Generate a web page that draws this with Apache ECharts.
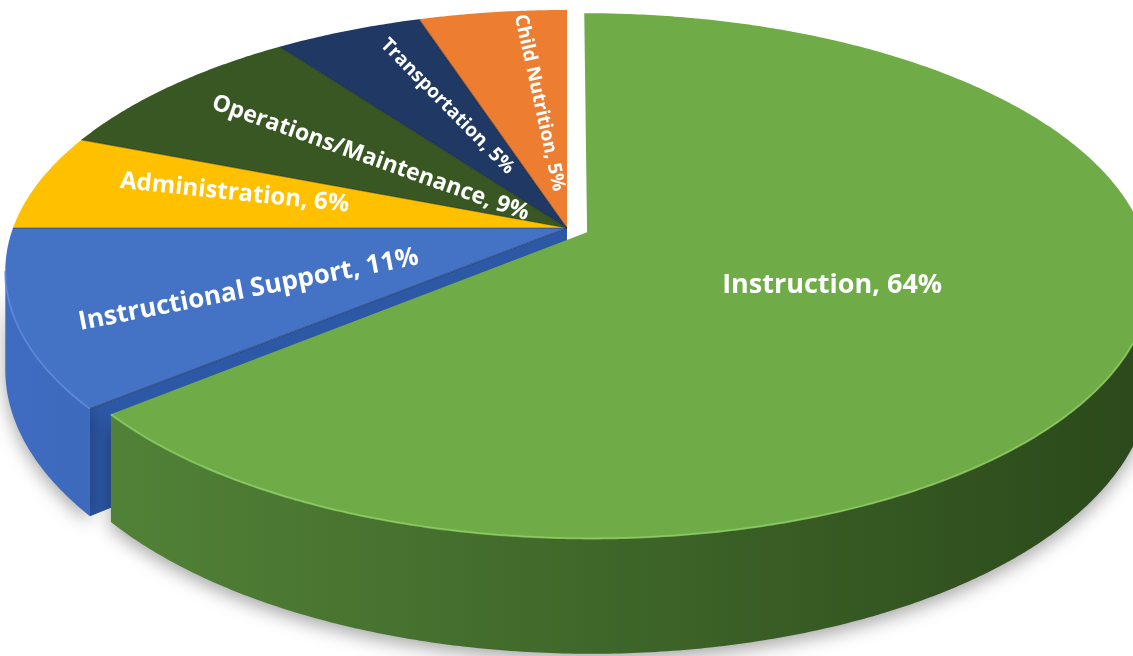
<!DOCTYPE html>
<html><head><meta charset="utf-8">
<script src="https://cdn.jsdelivr.net/npm/echarts@6/dist/echarts.min.js"></script>
<style>html,body{margin:0;padding:0;background:#fff}#c{width:1133px;height:656px}</style>
</head><body><div id="c"></div>
<script>
// ---- data ----
const categories = ['Instruction', 'Instructional Support', 'Administration', 'Operations/Maintenance', 'Transportation', 'Child Nutrition'];
const values = [64, 11, 6, 9, 5, 5];

// ---- style ----
const topColors = ['#6fac47', '#4472c4', '#ffc000', '#385723', '#203864', '#ed7d31'];
const wallColors = [['#55873a', '#2c4a1b'], ['#3f6cc0', '#27498a'], ['#d9a300', '#a07800'], ['#2e4a1c', '#1e3212'], ['#1a2e54', '#101d38'], ['#c96a28', '#94501e']];
const rimColors = ['#8fd064', '#5e8ad8', '#ffd24d', '#4d7433', '#2e4c80', '#f59a5a'];
const cutColors = ['#4a7a30', '#2c58a6', '#c79400', '#2a441a', '#17294b', '#b85f22'];
const explode = [0.04, 0, 0, 0, 0, 0];
const labelRadius = [0.47, 0.6, 0.63, 0.47, 0.57, 0.54];
const labelAnglePos = [0.5, 0.42, 0.6, 0.5, 0.65, 0.68];
const labelFontSize = [27, 26, 24, 23, 19, 19];
const labelRadial = [false, true, true, true, true, true];
const G = { cx: 567, cy: 228, rx: 554, ry: 254, k: 0.165, depth: 96 };

const total = values.reduce((a, b) => a + b, 0);
const n = values.length;

function renderItem(params, api) {
  const i = params.dataIndex;
  let acc = 0;
  for (let j = 0; j < i; j++) acc += values[j];
  const a1 = acc / total * 2 * Math.PI;
  const a2 = (acc + api.value(0)) / total * 2 * Math.PI;
  const mid = (a1 + a2) / 2;
  const ou = explode[i] * Math.sin(mid), ov = -explode[i] * Math.cos(mid);
  const P = (u, v, h) => { const w = 1 - G.k * v; return [G.cx + G.rx * u / w, G.cy + (G.ry * v + h) / w]; };
  const rim = (t, h) => P(ou + Math.sin(t), ov - Math.cos(t), h);
  const apex = h => P(ou, ov, h);
  const step = Math.PI / 360;
  const arc = (s, e, h) => {
    const pts = []; const m = Math.max(2, Math.ceil((e - s) / step));
    for (let q = 0; q <= m; q++) pts.push(rim(s + (e - s) * q / m, h));
    return pts;
  };
  const children = [];
  // top face
  children.push({ type: 'polygon', z2: 3, shape: { points: [apex(0)].concat(arc(a1, a2, 0)) }, style: { fill: topColors[i] } });
  // outer wall
  const S1 = Math.acos(-G.k), S2 = 2 * Math.PI - S1;
  const w1 = Math.max(a1, S1), w2 = Math.min(a2, S2);
  if (w2 > w1) {
    const topPts = arc(w1, w2, 0), botPts = arc(w1, w2, G.depth).reverse();
    children.push({
      type: 'polygon', z2: 2, shape: { points: topPts.concat(botPts) },
      style: {
        fill: { type: 'linear', x: G.cx - G.rx, y: 0, x2: G.cx + G.rx, y2: 0, global: true,
          colorStops: [{ offset: 0, color: wallColors[i][0] }, { offset: 1, color: wallColors[i][1] }] },
        shadowBlur: 18, shadowColor: 'rgba(0,0,0,0.35)', shadowOffsetY: 6
      }
    });
    children.push({ type: 'polyline', z2: 4, shape: { points: topPts }, style: { stroke: rimColors[i], lineWidth: 2, opacity: 0.8, fill: null } });
  }
  // cut faces next to an exploded slice
  const prev = (i - 1 + n) % n, next = (i + 1) % n;
  if ((explode[i] > 0 || explode[prev] > 0) && -Math.sin(a1) > 0.01) {
    children.push({ type: 'polygon', z2: 1, shape: { points: [apex(0), rim(a1, 0), rim(a1, G.depth), apex(G.depth)] }, style: { fill: cutColors[i] } });
  }
  if ((explode[i] > 0 || explode[next] > 0) && Math.sin(a2) > 0.01) {
    children.push({ type: 'polygon', z2: 1, shape: { points: [apex(0), rim(a2, 0), rim(a2, G.depth), apex(G.depth)] }, style: { fill: cutColors[i] } });
  }
  // radial edge lines
  if (explode[i] === 0) {
    children.push({ type: 'polyline', z2: 4, shape: { points: [apex(0), rim(a1, 0)] }, style: { stroke: 'rgba(0,0,0,0.35)', lineWidth: 1.2, fill: null } });
  }
  // label
  const f = labelRadius[i];
  const la = a1 + (a2 - a1) * labelAnglePos[i];
  const L = P(ou + f * Math.sin(la), ov - f * Math.cos(la), 0);
  let rot = 0;
  if (labelRadial[i]) {
    const A = apex(0);
    rot = -Math.atan2(A[1] - L[1], A[0] - L[0]);
  }
  children.push({
    type: 'text', z2: 10, x: L[0], y: L[1], rotation: rot,
    style: { text: categories[i] + ', ' + values[i] + '%', fill: '#ffffff', font: 'bold ' + labelFontSize[i] + 'px "Open Sans"', align: 'center', verticalAlign: 'middle' }
  });
  return { type: 'group', children };
}

const chart = echarts.init(document.getElementById('c'), null, { renderer: 'canvas' });
chart.setOption({
  animation: false,
  backgroundColor: '#ffffff',
  series: [{ type: 'custom', coordinateSystem: 'none', renderItem, data: values }]
});
</script></body></html>
